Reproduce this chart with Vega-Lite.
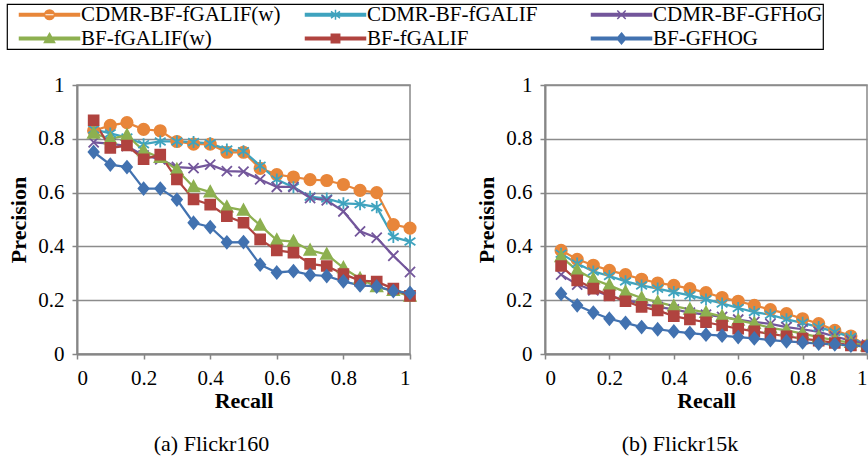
{
  "$schema": "https://vega.github.io/schema/vega-lite/v6.json",
  "padding": {"left": 5, "top": 2, "right": -4, "bottom": 0},
  "autosize": {"type": "pad"},
  "bounds": "flush",
  "spacing": 135,
  "config": {
    "font": "Liberation Serif",
    "view": {"stroke": "#898989", "strokeWidth": 1.5},
    "axis": {
      "labelFont": "Liberation Serif", "labelFontSize": 21, "labelColor": "black",
      "titleFont": "Liberation Serif", "titleFontSize": 22, "titleFontWeight": "bold", "titleColor": "black",
      "domainColor": "#868686", "domainWidth": 2, "tickColor": "#868686", "tickWidth": 1.5, "tickSize": 5,
      "gridColor": "#8c8c8c", "gridWidth": 1.5
    },
    "legend": {
      "labelFont": "Liberation Serif", "labelFontSize": 21, "labelColor": "black", "labelLimit": 1000,
      "symbolSize": 144, "symbolStrokeWidth": 1.5, "symbolOffset": 32, "labelOffset": 21,
      "columns": 3, "columnPadding": 12, "rowPadding": 2, "padding": 0, "gridAlign": "all", "direction": "horizontal",
      "strokeColor": "black", "strokeWidth": 1.2, "fillColor": "white",
      "titleOrient": "right", "titleFontSize": 21, "titlePadding": 0
    },
    "title": {"font": "Liberation Serif", "fontSize": 22, "fontWeight": "normal", "color": "black"}
  },
  "datasets": {
    "flickr160": [
      {"series": "CDMR-BF-fGALIF(w)", "recall": 0.05, "precision": 0.83},
      {"series": "CDMR-BF-fGALIF(w)", "recall": 0.10, "precision": 0.85},
      {"series": "CDMR-BF-fGALIF(w)", "recall": 0.15, "precision": 0.86},
      {"series": "CDMR-BF-fGALIF(w)", "recall": 0.20, "precision": 0.835},
      {"series": "CDMR-BF-fGALIF(w)", "recall": 0.25, "precision": 0.83},
      {"series": "CDMR-BF-fGALIF(w)", "recall": 0.30, "precision": 0.79},
      {"series": "CDMR-BF-fGALIF(w)", "recall": 0.35, "precision": 0.78},
      {"series": "CDMR-BF-fGALIF(w)", "recall": 0.40, "precision": 0.78},
      {"series": "CDMR-BF-fGALIF(w)", "recall": 0.45, "precision": 0.75},
      {"series": "CDMR-BF-fGALIF(w)", "recall": 0.50, "precision": 0.75},
      {"series": "CDMR-BF-fGALIF(w)", "recall": 0.55, "precision": 0.69},
      {"series": "CDMR-BF-fGALIF(w)", "recall": 0.60, "precision": 0.667},
      {"series": "CDMR-BF-fGALIF(w)", "recall": 0.65, "precision": 0.658},
      {"series": "CDMR-BF-fGALIF(w)", "recall": 0.70, "precision": 0.648},
      {"series": "CDMR-BF-fGALIF(w)", "recall": 0.75, "precision": 0.645},
      {"series": "CDMR-BF-fGALIF(w)", "recall": 0.80, "precision": 0.63},
      {"series": "CDMR-BF-fGALIF(w)", "recall": 0.85, "precision": 0.608},
      {"series": "CDMR-BF-fGALIF(w)", "recall": 0.90, "precision": 0.6},
      {"series": "CDMR-BF-fGALIF(w)", "recall": 0.95, "precision": 0.481},
      {"series": "CDMR-BF-fGALIF(w)", "recall": 1.00, "precision": 0.468},
      {"series": "CDMR-BF-fGALIF", "recall": 0.05, "precision": 0.835},
      {"series": "CDMR-BF-fGALIF", "recall": 0.10, "precision": 0.82},
      {"series": "CDMR-BF-fGALIF", "recall": 0.15, "precision": 0.805},
      {"series": "CDMR-BF-fGALIF", "recall": 0.20, "precision": 0.78},
      {"series": "CDMR-BF-fGALIF", "recall": 0.25, "precision": 0.79},
      {"series": "CDMR-BF-fGALIF", "recall": 0.30, "precision": 0.79},
      {"series": "CDMR-BF-fGALIF", "recall": 0.35, "precision": 0.788},
      {"series": "CDMR-BF-fGALIF", "recall": 0.40, "precision": 0.783},
      {"series": "CDMR-BF-fGALIF", "recall": 0.45, "precision": 0.76},
      {"series": "CDMR-BF-fGALIF", "recall": 0.50, "precision": 0.754},
      {"series": "CDMR-BF-fGALIF", "recall": 0.55, "precision": 0.70},
      {"series": "CDMR-BF-fGALIF", "recall": 0.60, "precision": 0.649},
      {"series": "CDMR-BF-fGALIF", "recall": 0.65, "precision": 0.62},
      {"series": "CDMR-BF-fGALIF", "recall": 0.70, "precision": 0.585},
      {"series": "CDMR-BF-fGALIF", "recall": 0.75, "precision": 0.578},
      {"series": "CDMR-BF-fGALIF", "recall": 0.80, "precision": 0.56},
      {"series": "CDMR-BF-fGALIF", "recall": 0.85, "precision": 0.557},
      {"series": "CDMR-BF-fGALIF", "recall": 0.90, "precision": 0.546},
      {"series": "CDMR-BF-fGALIF", "recall": 0.95, "precision": 0.435},
      {"series": "CDMR-BF-fGALIF", "recall": 1.00, "precision": 0.418},
      {"series": "CDMR-BF-GFHoG", "recall": 0.05, "precision": 0.787},
      {"series": "CDMR-BF-GFHoG", "recall": 0.10, "precision": 0.782},
      {"series": "CDMR-BF-GFHoG", "recall": 0.15, "precision": 0.773},
      {"series": "CDMR-BF-GFHoG", "recall": 0.20, "precision": 0.738},
      {"series": "CDMR-BF-GFHoG", "recall": 0.25, "precision": 0.724},
      {"series": "CDMR-BF-GFHoG", "recall": 0.30, "precision": 0.695},
      {"series": "CDMR-BF-GFHoG", "recall": 0.35, "precision": 0.691},
      {"series": "CDMR-BF-GFHoG", "recall": 0.40, "precision": 0.704},
      {"series": "CDMR-BF-GFHoG", "recall": 0.45, "precision": 0.68},
      {"series": "CDMR-BF-GFHoG", "recall": 0.50, "precision": 0.678},
      {"series": "CDMR-BF-GFHoG", "recall": 0.55, "precision": 0.649},
      {"series": "CDMR-BF-GFHoG", "recall": 0.60, "precision": 0.621},
      {"series": "CDMR-BF-GFHoG", "recall": 0.65, "precision": 0.621},
      {"series": "CDMR-BF-GFHoG", "recall": 0.70, "precision": 0.58},
      {"series": "CDMR-BF-GFHoG", "recall": 0.75, "precision": 0.571},
      {"series": "CDMR-BF-GFHoG", "recall": 0.80, "precision": 0.53},
      {"series": "CDMR-BF-GFHoG", "recall": 0.85, "precision": 0.456},
      {"series": "CDMR-BF-GFHoG", "recall": 0.90, "precision": 0.432},
      {"series": "CDMR-BF-GFHoG", "recall": 0.95, "precision": 0.365},
      {"series": "CDMR-BF-GFHoG", "recall": 1.00, "precision": 0.305},
      {"series": "BF-fGALIF(w)", "recall": 0.05, "precision": 0.82},
      {"series": "BF-fGALIF(w)", "recall": 0.10, "precision": 0.80},
      {"series": "BF-fGALIF(w)", "recall": 0.15, "precision": 0.813},
      {"series": "BF-fGALIF(w)", "recall": 0.20, "precision": 0.755},
      {"series": "BF-fGALIF(w)", "recall": 0.25, "precision": 0.73},
      {"series": "BF-fGALIF(w)", "recall": 0.30, "precision": 0.685},
      {"series": "BF-fGALIF(w)", "recall": 0.35, "precision": 0.621},
      {"series": "BF-fGALIF(w)", "recall": 0.40, "precision": 0.602},
      {"series": "BF-fGALIF(w)", "recall": 0.45, "precision": 0.546},
      {"series": "BF-fGALIF(w)", "recall": 0.50, "precision": 0.534},
      {"series": "BF-fGALIF(w)", "recall": 0.55, "precision": 0.478},
      {"series": "BF-fGALIF(w)", "recall": 0.60, "precision": 0.423},
      {"series": "BF-fGALIF(w)", "recall": 0.65, "precision": 0.418},
      {"series": "BF-fGALIF(w)", "recall": 0.70, "precision": 0.385},
      {"series": "BF-fGALIF(w)", "recall": 0.75, "precision": 0.37},
      {"series": "BF-fGALIF(w)", "recall": 0.80, "precision": 0.32},
      {"series": "BF-fGALIF(w)", "recall": 0.85, "precision": 0.28},
      {"series": "BF-fGALIF(w)", "recall": 0.90, "precision": 0.249},
      {"series": "BF-fGALIF(w)", "recall": 0.95, "precision": 0.235},
      {"series": "BF-fGALIF(w)", "recall": 1.00, "precision": 0.214},
      {"series": "BF-fGALIF", "recall": 0.05, "precision": 0.869},
      {"series": "BF-fGALIF", "recall": 0.10, "precision": 0.766},
      {"series": "BF-fGALIF", "recall": 0.15, "precision": 0.775},
      {"series": "BF-fGALIF", "recall": 0.20, "precision": 0.724},
      {"series": "BF-fGALIF", "recall": 0.25, "precision": 0.741},
      {"series": "BF-fGALIF", "recall": 0.30, "precision": 0.649},
      {"series": "BF-fGALIF", "recall": 0.35, "precision": 0.575},
      {"series": "BF-fGALIF", "recall": 0.40, "precision": 0.555},
      {"series": "BF-fGALIF", "recall": 0.45, "precision": 0.512},
      {"series": "BF-fGALIF", "recall": 0.50, "precision": 0.488},
      {"series": "BF-fGALIF", "recall": 0.55, "precision": 0.426},
      {"series": "BF-fGALIF", "recall": 0.60, "precision": 0.385},
      {"series": "BF-fGALIF", "recall": 0.65, "precision": 0.377},
      {"series": "BF-fGALIF", "recall": 0.70, "precision": 0.335},
      {"series": "BF-fGALIF", "recall": 0.75, "precision": 0.327},
      {"series": "BF-fGALIF", "recall": 0.80, "precision": 0.297},
      {"series": "BF-fGALIF", "recall": 0.85, "precision": 0.273},
      {"series": "BF-fGALIF", "recall": 0.90, "precision": 0.269},
      {"series": "BF-fGALIF", "recall": 0.95, "precision": 0.243},
      {"series": "BF-fGALIF", "recall": 1.00, "precision": 0.216},
      {"series": "BF-GFHOG", "recall": 0.05, "precision": 0.751},
      {"series": "BF-GFHOG", "recall": 0.10, "precision": 0.704},
      {"series": "BF-GFHOG", "recall": 0.15, "precision": 0.695},
      {"series": "BF-GFHOG", "recall": 0.20, "precision": 0.615},
      {"series": "BF-GFHOG", "recall": 0.25, "precision": 0.615},
      {"series": "BF-GFHOG", "recall": 0.30, "precision": 0.574},
      {"series": "BF-GFHOG", "recall": 0.35, "precision": 0.488},
      {"series": "BF-GFHOG", "recall": 0.40, "precision": 0.472},
      {"series": "BF-GFHOG", "recall": 0.45, "precision": 0.415},
      {"series": "BF-GFHOG", "recall": 0.50, "precision": 0.416},
      {"series": "BF-GFHOG", "recall": 0.55, "precision": 0.332},
      {"series": "BF-GFHOG", "recall": 0.60, "precision": 0.303},
      {"series": "BF-GFHOG", "recall": 0.65, "precision": 0.308},
      {"series": "BF-GFHOG", "recall": 0.70, "precision": 0.294},
      {"series": "BF-GFHOG", "recall": 0.75, "precision": 0.29},
      {"series": "BF-GFHOG", "recall": 0.80, "precision": 0.27},
      {"series": "BF-GFHOG", "recall": 0.85, "precision": 0.255},
      {"series": "BF-GFHOG", "recall": 0.90, "precision": 0.251},
      {"series": "BF-GFHOG", "recall": 0.95, "precision": 0.234},
      {"series": "BF-GFHOG", "recall": 1.00, "precision": 0.227}
    ],
    "flickr15k": [
      {"series": "CDMR-BF-fGALIF(w)", "recall": 0.05, "precision": 0.385},
      {"series": "CDMR-BF-fGALIF(w)", "recall": 0.10, "precision": 0.352},
      {"series": "CDMR-BF-fGALIF(w)", "recall": 0.15, "precision": 0.33},
      {"series": "CDMR-BF-fGALIF(w)", "recall": 0.20, "precision": 0.311},
      {"series": "CDMR-BF-fGALIF(w)", "recall": 0.25, "precision": 0.295},
      {"series": "CDMR-BF-fGALIF(w)", "recall": 0.30, "precision": 0.278},
      {"series": "CDMR-BF-fGALIF(w)", "recall": 0.35, "precision": 0.264},
      {"series": "CDMR-BF-fGALIF(w)", "recall": 0.40, "precision": 0.255},
      {"series": "CDMR-BF-fGALIF(w)", "recall": 0.45, "precision": 0.243},
      {"series": "CDMR-BF-fGALIF(w)", "recall": 0.50, "precision": 0.228},
      {"series": "CDMR-BF-fGALIF(w)", "recall": 0.55, "precision": 0.21},
      {"series": "CDMR-BF-fGALIF(w)", "recall": 0.60, "precision": 0.196},
      {"series": "CDMR-BF-fGALIF(w)", "recall": 0.65, "precision": 0.181},
      {"series": "CDMR-BF-fGALIF(w)", "recall": 0.70, "precision": 0.165},
      {"series": "CDMR-BF-fGALIF(w)", "recall": 0.75, "precision": 0.15},
      {"series": "CDMR-BF-fGALIF(w)", "recall": 0.80, "precision": 0.131},
      {"series": "CDMR-BF-fGALIF(w)", "recall": 0.85, "precision": 0.113},
      {"series": "CDMR-BF-fGALIF(w)", "recall": 0.90, "precision": 0.088},
      {"series": "CDMR-BF-fGALIF(w)", "recall": 0.95, "precision": 0.067},
      {"series": "CDMR-BF-fGALIF(w)", "recall": 1.00, "precision": 0.03},
      {"series": "CDMR-BF-fGALIF", "recall": 0.05, "precision": 0.373},
      {"series": "CDMR-BF-fGALIF", "recall": 0.10, "precision": 0.336},
      {"series": "CDMR-BF-fGALIF", "recall": 0.15, "precision": 0.307},
      {"series": "CDMR-BF-fGALIF", "recall": 0.20, "precision": 0.29},
      {"series": "CDMR-BF-fGALIF", "recall": 0.25, "precision": 0.27},
      {"series": "CDMR-BF-fGALIF", "recall": 0.30, "precision": 0.255},
      {"series": "CDMR-BF-fGALIF", "recall": 0.35, "precision": 0.243},
      {"series": "CDMR-BF-fGALIF", "recall": 0.40, "precision": 0.23},
      {"series": "CDMR-BF-fGALIF", "recall": 0.45, "precision": 0.218},
      {"series": "CDMR-BF-fGALIF", "recall": 0.50, "precision": 0.203},
      {"series": "CDMR-BF-fGALIF", "recall": 0.55, "precision": 0.188},
      {"series": "CDMR-BF-fGALIF", "recall": 0.60, "precision": 0.171},
      {"series": "CDMR-BF-fGALIF", "recall": 0.65, "precision": 0.156},
      {"series": "CDMR-BF-fGALIF", "recall": 0.70, "precision": 0.146},
      {"series": "CDMR-BF-fGALIF", "recall": 0.75, "precision": 0.129},
      {"series": "CDMR-BF-fGALIF", "recall": 0.80, "precision": 0.116},
      {"series": "CDMR-BF-fGALIF", "recall": 0.85, "precision": 0.1},
      {"series": "CDMR-BF-fGALIF", "recall": 0.90, "precision": 0.082},
      {"series": "CDMR-BF-fGALIF", "recall": 0.95, "precision": 0.063},
      {"series": "CDMR-BF-fGALIF", "recall": 1.00, "precision": 0.03},
      {"series": "CDMR-BF-GFHoG", "recall": 0.05, "precision": 0.295},
      {"series": "CDMR-BF-GFHoG", "recall": 0.10, "precision": 0.258},
      {"series": "CDMR-BF-GFHoG", "recall": 0.15, "precision": 0.237},
      {"series": "CDMR-BF-GFHoG", "recall": 0.20, "precision": 0.216},
      {"series": "CDMR-BF-GFHoG", "recall": 0.25, "precision": 0.2},
      {"series": "CDMR-BF-GFHoG", "recall": 0.30, "precision": 0.187},
      {"series": "CDMR-BF-GFHoG", "recall": 0.35, "precision": 0.175},
      {"series": "CDMR-BF-GFHoG", "recall": 0.40, "precision": 0.166},
      {"series": "CDMR-BF-GFHoG", "recall": 0.45, "precision": 0.154},
      {"series": "CDMR-BF-GFHoG", "recall": 0.50, "precision": 0.146},
      {"series": "CDMR-BF-GFHoG", "recall": 0.55, "precision": 0.138},
      {"series": "CDMR-BF-GFHoG", "recall": 0.60, "precision": 0.128},
      {"series": "CDMR-BF-GFHoG", "recall": 0.65, "precision": 0.119},
      {"series": "CDMR-BF-GFHoG", "recall": 0.70, "precision": 0.112},
      {"series": "CDMR-BF-GFHoG", "recall": 0.75, "precision": 0.1},
      {"series": "CDMR-BF-GFHoG", "recall": 0.80, "precision": 0.092},
      {"series": "CDMR-BF-GFHoG", "recall": 0.85, "precision": 0.082},
      {"series": "CDMR-BF-GFHoG", "recall": 0.90, "precision": 0.065},
      {"series": "CDMR-BF-GFHoG", "recall": 0.95, "precision": 0.05},
      {"series": "CDMR-BF-GFHoG", "recall": 1.00, "precision": 0.035},
      {"series": "BF-fGALIF(w)", "recall": 0.05, "precision": 0.361},
      {"series": "BF-fGALIF(w)", "recall": 0.10, "precision": 0.311},
      {"series": "BF-fGALIF(w)", "recall": 0.15, "precision": 0.278},
      {"series": "BF-fGALIF(w)", "recall": 0.20, "precision": 0.255},
      {"series": "BF-fGALIF(w)", "recall": 0.25, "precision": 0.23},
      {"series": "BF-fGALIF(w)", "recall": 0.30, "precision": 0.208},
      {"series": "BF-fGALIF(w)", "recall": 0.35, "precision": 0.193},
      {"series": "BF-fGALIF(w)", "recall": 0.40, "precision": 0.178},
      {"series": "BF-fGALIF(w)", "recall": 0.45, "precision": 0.166},
      {"series": "BF-fGALIF(w)", "recall": 0.50, "precision": 0.154},
      {"series": "BF-fGALIF(w)", "recall": 0.55, "precision": 0.14},
      {"series": "BF-fGALIF(w)", "recall": 0.60, "precision": 0.125},
      {"series": "BF-fGALIF(w)", "recall": 0.65, "precision": 0.113},
      {"series": "BF-fGALIF(w)", "recall": 0.70, "precision": 0.097},
      {"series": "BF-fGALIF(w)", "recall": 0.75, "precision": 0.088},
      {"series": "BF-fGALIF(w)", "recall": 0.80, "precision": 0.076},
      {"series": "BF-fGALIF(w)", "recall": 0.85, "precision": 0.063},
      {"series": "BF-fGALIF(w)", "recall": 0.90, "precision": 0.051},
      {"series": "BF-fGALIF(w)", "recall": 0.95, "precision": 0.042},
      {"series": "BF-fGALIF(w)", "recall": 1.00, "precision": 0.029},
      {"series": "BF-fGALIF", "recall": 0.05, "precision": 0.327},
      {"series": "BF-fGALIF", "recall": 0.10, "precision": 0.274},
      {"series": "BF-fGALIF", "recall": 0.15, "precision": 0.243},
      {"series": "BF-fGALIF", "recall": 0.20, "precision": 0.218},
      {"series": "BF-fGALIF", "recall": 0.25, "precision": 0.196},
      {"series": "BF-fGALIF", "recall": 0.30, "precision": 0.175},
      {"series": "BF-fGALIF", "recall": 0.35, "precision": 0.162},
      {"series": "BF-fGALIF", "recall": 0.40, "precision": 0.141},
      {"series": "BF-fGALIF", "recall": 0.45, "precision": 0.129},
      {"series": "BF-fGALIF", "recall": 0.50, "precision": 0.118},
      {"series": "BF-fGALIF", "recall": 0.55, "precision": 0.106},
      {"series": "BF-fGALIF", "recall": 0.60, "precision": 0.094},
      {"series": "BF-fGALIF", "recall": 0.65, "precision": 0.084},
      {"series": "BF-fGALIF", "recall": 0.70, "precision": 0.075},
      {"series": "BF-fGALIF", "recall": 0.75, "precision": 0.066},
      {"series": "BF-fGALIF", "recall": 0.80, "precision": 0.057},
      {"series": "BF-fGALIF", "recall": 0.85, "precision": 0.05},
      {"series": "BF-fGALIF", "recall": 0.90, "precision": 0.041},
      {"series": "BF-fGALIF", "recall": 0.95, "precision": 0.032},
      {"series": "BF-fGALIF", "recall": 1.00, "precision": 0.028},
      {"series": "BF-GFHOG", "recall": 0.05, "precision": 0.224},
      {"series": "BF-GFHOG", "recall": 0.10, "precision": 0.181},
      {"series": "BF-GFHOG", "recall": 0.15, "precision": 0.154},
      {"series": "BF-GFHOG", "recall": 0.20, "precision": 0.131},
      {"series": "BF-GFHOG", "recall": 0.25, "precision": 0.116},
      {"series": "BF-GFHOG", "recall": 0.30, "precision": 0.1},
      {"series": "BF-GFHOG", "recall": 0.35, "precision": 0.092},
      {"series": "BF-GFHOG", "recall": 0.40, "precision": 0.084},
      {"series": "BF-GFHOG", "recall": 0.45, "precision": 0.078},
      {"series": "BF-GFHOG", "recall": 0.50, "precision": 0.072},
      {"series": "BF-GFHOG", "recall": 0.55, "precision": 0.068},
      {"series": "BF-GFHOG", "recall": 0.60, "precision": 0.063},
      {"series": "BF-GFHOG", "recall": 0.65, "precision": 0.058},
      {"series": "BF-GFHOG", "recall": 0.70, "precision": 0.052},
      {"series": "BF-GFHOG", "recall": 0.75, "precision": 0.047},
      {"series": "BF-GFHOG", "recall": 0.80, "precision": 0.043},
      {"series": "BF-GFHOG", "recall": 0.85, "precision": 0.039},
      {"series": "BF-GFHOG", "recall": 0.90, "precision": 0.036},
      {"series": "BF-GFHOG", "recall": 0.95, "precision": 0.031},
      {"series": "BF-GFHOG", "recall": 1.00, "precision": 0.028}
    ]
  },
  "hconcat": [
    {
      "data": {"name": "flickr160"},
      "width": 333,
      "height": 269,
      "title": {"text": "(a) Flickr160", "orient": "bottom", "offset": 23, "dx": -32, "font": "Liberation Serif"},
      "layer": [
        {
          "mark": {"type": "line", "strokeWidth": 2.25},
          "encoding": {
            "x": {"field": "recall", "type": "quantitative", "scale": {"domain": [0, 1]}, "axis": {"title": "Recall", "values": [0, 0.2, 0.4, 0.6, 0.8, 1], "format": "~g", "grid": false, "labelPadding": 8, "titlePadding": 2, "labelFont": "Liberation Serif", "titleFont": "Liberation Serif"}},
            "y": {"field": "precision", "type": "quantitative", "scale": {"domain": [0, 1]}, "axis": {"title": "Precision", "values": [0, 0.2, 0.4, 0.6, 0.8, 1], "format": "~g", "grid": true, "labelPadding": 8, "titlePadding": 7, "labelFont": "Liberation Serif", "titleFont": "Liberation Serif"}},
            "color": {"field": "series", "type": "nominal", "scale": {"domain": ["CDMR-BF-fGALIF(w)", "CDMR-BF-fGALIF", "CDMR-BF-GFHoG", "BF-fGALIF(w)", "BF-fGALIF", "BF-GFHOG"], "range": ["#E8863A", "#3FA3BE", "#73569B", "#8DB050", "#B0433F", "#4272B0"]}, "legend": null}
          }
        },
        {
          "mark": {"type": "point", "filled": true, "opacity": 1, "strokeWidth": 1.8, "size": 160},
          "encoding": {
            "x": {"field": "recall", "type": "quantitative"},
            "y": {"field": "precision", "type": "quantitative"},
            "color": {"field": "series", "type": "nominal", "scale": {"domain": ["CDMR-BF-fGALIF(w)", "CDMR-BF-fGALIF", "CDMR-BF-GFHoG", "BF-fGALIF(w)", "BF-fGALIF", "BF-GFHOG"], "range": ["#E8863A", "#3FA3BE", "#73569B", "#8DB050", "#B0433F", "#4272B0"]}, "legend": null},
            "stroke": {"field": "series", "type": "nominal", "scale": {"domain": ["CDMR-BF-fGALIF(w)", "CDMR-BF-fGALIF", "CDMR-BF-GFHoG", "BF-fGALIF(w)", "BF-fGALIF", "BF-GFHOG"], "range": ["#E8863A", "#3FA3BE", "#73569B", "#8DB050", "#B0433F", "#4272B0"]}, "legend": null},
            "shape": {"field": "series", "type": "nominal", "scale": {"domain": ["CDMR-BF-fGALIF(w)", "CDMR-BF-fGALIF", "CDMR-BF-GFHoG", "BF-fGALIF(w)", "BF-fGALIF", "BF-GFHOG"], "range": ["M-0.9,0A0.9,0.9 0 1 0 0.9,0A0.9,0.9 0 1 0 -0.9,0Z", "M0,-0.95V0.95M-0.85,-0.6L0.85,0.6M-0.85,0.6L0.85,-0.6", "M-0.8,-0.8L0.8,0.8M-0.8,0.8L0.8,-0.8", "M0,-0.95L0.9,0.7H-0.9Z", "M-0.78,-0.78H0.78V0.78H-0.78Z", "M0,-0.95L0.8,0L0,0.95L-0.8,0Z"]}, "legend": null}
          }
        },
        {
          "transform": [{"filter": "false"}],
          "mark": {"type": "point", "filled": true, "opacity": 1, "strokeWidth": 1.5},
          "encoding": {
            "x": {"field": "recall", "type": "quantitative"},
            "y": {"field": "precision", "type": "quantitative"},
            "color": {"field": "series", "type": "nominal", "scale": {"domain": ["CDMR-BF-fGALIF(w)", "CDMR-BF-fGALIF", "CDMR-BF-GFHoG", "BF-fGALIF(w)", "BF-fGALIF", "BF-GFHOG"], "range": ["#E8863A", "#3FA3BE", "#73569B", "#8DB050", "#B0433F", "#4272B0"]}, "legend": {"orient": "none", "legendX": -70, "legendY": -81, "title": "\u00a0\u00a0\u00a0"}},
            "stroke": {"field": "series", "type": "nominal", "scale": {"domain": ["CDMR-BF-fGALIF(w)", "CDMR-BF-fGALIF", "CDMR-BF-GFHoG", "BF-fGALIF(w)", "BF-fGALIF", "BF-GFHOG"], "range": ["#E8863A", "#3FA3BE", "#73569B", "#8DB050", "#B0433F", "#4272B0"]}, "legend": {"orient": "none", "legendX": -70, "legendY": -81, "title": "\u00a0\u00a0\u00a0"}},
            "shape": {"field": "series", "type": "nominal", "scale": {"domain": ["CDMR-BF-fGALIF(w)", "CDMR-BF-fGALIF", "CDMR-BF-GFHoG", "BF-fGALIF(w)", "BF-fGALIF", "BF-GFHOG"], "range": ["M-5,-0.22H5V0.22H-5Z M-0.8,0A0.8,0.8 0 1 0 0.8,0A0.8,0.8 0 1 0 -0.8,0Z", "M-5,-0.22H5V0.22H-5Z M0,-0.85V0.85M-0.75,-0.55L0.75,0.55M-0.75,0.55L0.75,-0.55", "M-5,-0.22H5V0.22H-5Z M-0.7,-0.7L0.7,0.7M-0.7,0.7L0.7,-0.7", "M-5,-0.22H5V0.22H-5Z M0,-0.85L0.85,0.65H-0.85Z", "M-5,-0.22H5V0.22H-5Z M-0.7,-0.7H0.7V0.7H-0.7Z", "M-5,-0.22H5V0.22H-5Z M0,-0.9L0.75,0L0,0.9L-0.75,0Z"]}, "legend": {"orient": "none", "legendX": -70, "legendY": -81, "title": "\u00a0\u00a0\u00a0"}}
          }
        }
      ],
      "resolve": {"scale": {"color": "independent", "stroke": "independent", "shape": "independent"}}
    },
    {
      "data": {"name": "flickr15k"},
      "width": 322,
      "height": 269,
      "title": {"text": "(b) Flickr15k", "orient": "bottom", "offset": 23, "dx": -26, "font": "Liberation Serif"},
      "layer": [
        {
          "mark": {"type": "line", "strokeWidth": 2.25},
          "encoding": {
            "x": {"field": "recall", "type": "quantitative", "scale": {"domain": [0, 1]}, "axis": {"title": "Recall", "values": [0, 0.2, 0.4, 0.6, 0.8, 1], "format": "~g", "grid": false, "labelPadding": 8, "titlePadding": 2, "labelFont": "Liberation Serif", "titleFont": "Liberation Serif"}},
            "y": {"field": "precision", "type": "quantitative", "scale": {"domain": [0, 1]}, "axis": {"title": "Precision", "values": [0, 0.2, 0.4, 0.6, 0.8, 1], "format": "~g", "grid": true, "labelPadding": 8, "titlePadding": 7, "labelFont": "Liberation Serif", "titleFont": "Liberation Serif"}},
            "color": {"field": "series", "type": "nominal", "scale": {"domain": ["CDMR-BF-fGALIF(w)", "CDMR-BF-fGALIF", "CDMR-BF-GFHoG", "BF-fGALIF(w)", "BF-fGALIF", "BF-GFHOG"], "range": ["#E8863A", "#3FA3BE", "#73569B", "#8DB050", "#B0433F", "#4272B0"]}, "legend": null}
          }
        },
        {
          "mark": {"type": "point", "filled": true, "opacity": 1, "strokeWidth": 1.8, "size": 160},
          "encoding": {
            "x": {"field": "recall", "type": "quantitative"},
            "y": {"field": "precision", "type": "quantitative"},
            "color": {"field": "series", "type": "nominal", "scale": {"domain": ["CDMR-BF-fGALIF(w)", "CDMR-BF-fGALIF", "CDMR-BF-GFHoG", "BF-fGALIF(w)", "BF-fGALIF", "BF-GFHOG"], "range": ["#E8863A", "#3FA3BE", "#73569B", "#8DB050", "#B0433F", "#4272B0"]}, "legend": null},
            "stroke": {"field": "series", "type": "nominal", "scale": {"domain": ["CDMR-BF-fGALIF(w)", "CDMR-BF-fGALIF", "CDMR-BF-GFHoG", "BF-fGALIF(w)", "BF-fGALIF", "BF-GFHOG"], "range": ["#E8863A", "#3FA3BE", "#73569B", "#8DB050", "#B0433F", "#4272B0"]}, "legend": null},
            "shape": {"field": "series", "type": "nominal", "scale": {"domain": ["CDMR-BF-fGALIF(w)", "CDMR-BF-fGALIF", "CDMR-BF-GFHoG", "BF-fGALIF(w)", "BF-fGALIF", "BF-GFHOG"], "range": ["M-0.9,0A0.9,0.9 0 1 0 0.9,0A0.9,0.9 0 1 0 -0.9,0Z", "M0,-0.95V0.95M-0.85,-0.6L0.85,0.6M-0.85,0.6L0.85,-0.6", "M-0.8,-0.8L0.8,0.8M-0.8,0.8L0.8,-0.8", "M0,-0.95L0.9,0.7H-0.9Z", "M-0.78,-0.78H0.78V0.78H-0.78Z", "M0,-0.95L0.8,0L0,0.95L-0.8,0Z"]}, "legend": null}
          }
        }
      ]
    }
  ]
}
